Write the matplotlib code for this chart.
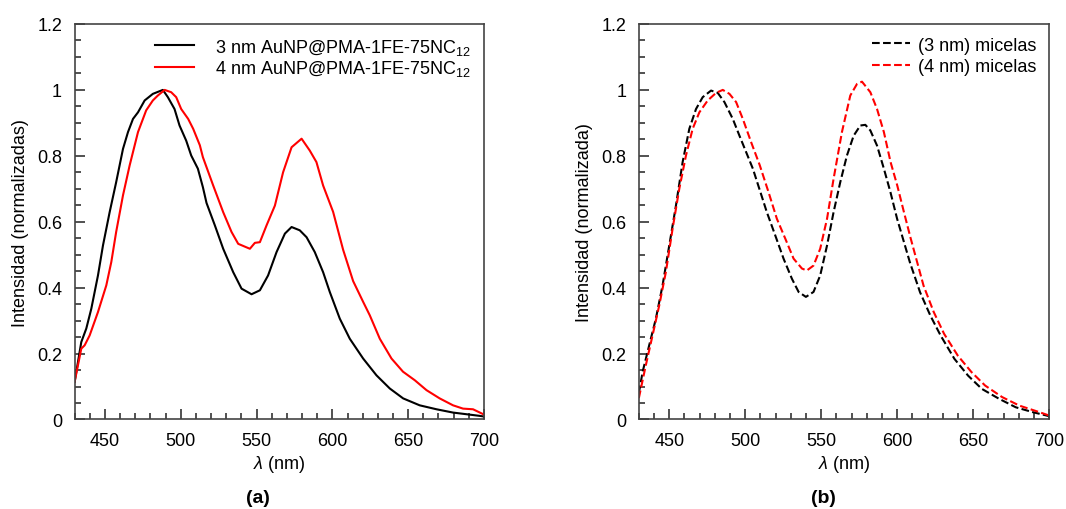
import matplotlib
matplotlib.use("Agg")
import matplotlib.pyplot as plt
from matplotlib.ticker import MultipleLocator, FuncFormatter

plt.rcParams['font.family'] = ['Liberation Sans', 'DejaVu Sans']
plt.rcParams['mathtext.fontset'] = 'custom'
plt.rcParams['mathtext.rm'] = 'Liberation Sans'
plt.rcParams['mathtext.it'] = 'Liberation Sans:italic'

# ---- panel (a): AuNP@PMA spectra (solid) ----
wl_a3 = [430, 434.4, 437.7, 441.0, 445.4, 448.7, 453.1, 457.4, 461.9, 465.2, 468.5, 471.8,
         476.2, 481.6, 488.2, 491.5, 495.9, 499.2, 503.6, 506.9, 511.3, 514.6, 517.0, 522.5,
         528.0, 534.6, 540.1, 546.7, 552.2, 557.6, 563.2, 568.7, 573.1, 578.5, 583.0, 588.4,
         593.9, 598.3, 604.9, 611.5, 620.3, 629.1, 637.9, 646.7, 657.6, 668.7, 679.6, 688.4,
         697.2, 700]
int_a3 = [0.114, 0.235, 0.276, 0.336, 0.437, 0.528, 0.629, 0.72, 0.821, 0.872, 0.912, 0.932,
          0.968, 0.988, 1.0, 0.978, 0.942, 0.892, 0.846, 0.801, 0.761, 0.705, 0.657, 0.589,
          0.518, 0.447, 0.397, 0.380, 0.392, 0.437, 0.508, 0.564, 0.584, 0.574, 0.553, 0.508,
          0.447, 0.387, 0.306, 0.245, 0.185, 0.134, 0.094, 0.064, 0.043, 0.031, 0.021, 0.016,
          0.011, 0.009]

wl_a4 = [430, 434.4, 436.6, 439.9, 445.4, 450.9, 454.2, 457.4, 461.9, 466.3, 471.8, 477.2,
         481.6, 484.9, 489.4, 493.7, 497.0, 500.3, 504.9, 508.2, 512.6, 514.6, 521.4, 528.0,
         533.5, 537.9, 545.6, 548.9, 552.2, 556.6, 562.1, 567.5, 573.1, 579.7, 585.1, 589.5,
         593.9, 600.5, 607.1, 613.7, 620.3, 624.7, 631.3, 639.0, 646.6, 654.4, 662.1, 670.8,
         679.6, 686.2, 692.8, 700]
int_a4 = [0.114, 0.215, 0.225, 0.255, 0.326, 0.407, 0.478, 0.569, 0.68, 0.771, 0.872, 0.938,
          0.968, 0.983, 1.0, 0.993, 0.978, 0.942, 0.912, 0.882, 0.832, 0.796, 0.71, 0.629,
          0.569, 0.533, 0.518, 0.536, 0.538, 0.589, 0.649, 0.75, 0.826, 0.852, 0.816, 0.781,
          0.71, 0.63, 0.515, 0.42, 0.357, 0.316, 0.245, 0.185, 0.145, 0.119, 0.089, 0.064,
          0.043, 0.033, 0.031, 0.015]

# ---- panel (b): micelle spectra (dashed) ----
wl_b3 = [430, 432.5, 436.8, 441.2, 445.6, 450, 454.4, 458.8, 463.2, 467.6, 472, 477.5,
         481.9, 486.3, 491.8, 496.1, 500.6, 505, 510.1, 514.2, 519.7, 525.2, 530.7, 535.1,
         539.9, 544.9, 549.3, 553.8, 558.1, 562.5, 566.9, 571.3, 575.7, 579.0, 582.3, 586.7,
         591.2, 595.5, 599.9, 608.3, 615, 621.8, 628.5, 637.6, 646.6, 655.6, 666.9, 678,
         689.4, 700]
int_b3 = [0.08, 0.145, 0.225, 0.306, 0.407, 0.528, 0.649, 0.781, 0.882, 0.942, 0.978, 0.998,
          0.991, 0.963, 0.912, 0.862, 0.811, 0.761, 0.688, 0.629, 0.559, 0.488, 0.427, 0.387,
          0.372, 0.387, 0.437, 0.528, 0.629, 0.72, 0.801, 0.861, 0.892, 0.894, 0.877, 0.831,
          0.761, 0.69, 0.609, 0.477, 0.386, 0.315, 0.255, 0.184, 0.133, 0.093, 0.063, 0.037,
          0.022, 0.010]

wl_b4 = [430, 434.6, 439.0, 443.4, 447.8, 452.2, 456.6, 461.0, 465.4, 469.8, 475.3, 480.8,
         485.2, 489.6, 494.0, 498.4, 503.9, 509.5, 515.3, 520.8, 526.4, 531.8, 537.3, 540.5,
         544.9, 549.3, 553.8, 558.1, 563.6, 569.1, 573.5, 576.8, 582.3, 586.7, 591.2, 595.6,
         600, 604.4, 608.8, 617.3, 624, 630.8, 639.8, 648.8, 657.8, 669, 680.4, 691.7, 700]
int_b4 = [0.065, 0.165, 0.255, 0.346, 0.448, 0.579, 0.70, 0.801, 0.882, 0.932, 0.968, 0.991,
          1.0, 0.988, 0.963, 0.912, 0.841, 0.772, 0.69, 0.609, 0.548, 0.488, 0.458, 0.452,
          0.467, 0.518, 0.609, 0.73, 0.872, 0.983, 1.018, 1.025, 0.993, 0.942, 0.872, 0.781,
          0.71, 0.629, 0.55, 0.406, 0.326, 0.26, 0.194, 0.144, 0.103, 0.068, 0.042, 0.025,
          0.012]

labels_a = ['3 nm AuNP@PMA-1FE-75NC$_{12}$', '4 nm AuNP@PMA-1FE-75NC$_{12}$']
labels_b = ['(3 nm) micelas', '(4 nm) micelas']


def style_axes(ax, ylabel):
    ax.set_xlim(430, 700)
    ax.set_ylim(0, 1.2)
    ax.xaxis.set_major_locator(MultipleLocator(50))
    ax.xaxis.set_minor_locator(MultipleLocator(10))
    ax.yaxis.set_major_locator(MultipleLocator(0.2))
    ax.yaxis.set_minor_locator(MultipleLocator(0.05))
    ax.yaxis.set_major_formatter(FuncFormatter(lambda v, p: f'{v:g}'))
    ax.tick_params(which='both', direction='in', top=False, right=False,
                   labelsize=13, color='#222222')
    ax.tick_params(which='major', length=7, width=1.1, pad=9)
    ax.tick_params(which='minor', length=4, width=1.1)
    for s in ax.spines.values():
        s.set_linewidth(1.2)
        s.set_color('#444444')
    ax.set_xlabel(r'$\mathit{\lambda}$ (nm)', fontsize=13, labelpad=3)
    ax.set_ylabel(ylabel, fontsize=13, labelpad=6)


fig = plt.figure(figsize=(10.66, 5.10), dpi=100)
ax1 = fig.add_axes([0.070, 0.1755, 0.384, 0.7755])
ax2 = fig.add_axes([0.5993, 0.1755, 0.385, 0.7755])

ax1.plot(wl_a3, int_a3, color='black', lw=1.5, label=labels_a[0])
ax1.plot(wl_a4, int_a4, color='red', lw=1.5, label=labels_a[1])
style_axes(ax1, 'Intensidad (normalizadas)')
ax1.legend(loc='upper right', frameon=False, fontsize=13, handlelength=2.15,
           handletextpad=1.2, labelspacing=0.1, borderaxespad=0.3)

ax2.plot(wl_b3, int_b3, color='black', lw=1.5, ls='--', label=labels_b[0])
ax2.plot(wl_b4, int_b4, color='red', lw=1.5, ls='--', label=labels_b[1])
style_axes(ax2, 'Intensidad (normalizada)')
ax2.legend(loc='upper right', frameon=False, fontsize=13, handlelength=2.1,
           handletextpad=0.45, labelspacing=0.25, borderaxespad=0.3)

fig.text(0.242, 0.0235, '(a)', ha='center', va='center', fontsize=14, weight='bold')
fig.text(0.772, 0.0235, '(b)', ha='center', va='center', fontsize=14, weight='bold')

plt.savefig('out.png', dpi=100)
plt.close()
